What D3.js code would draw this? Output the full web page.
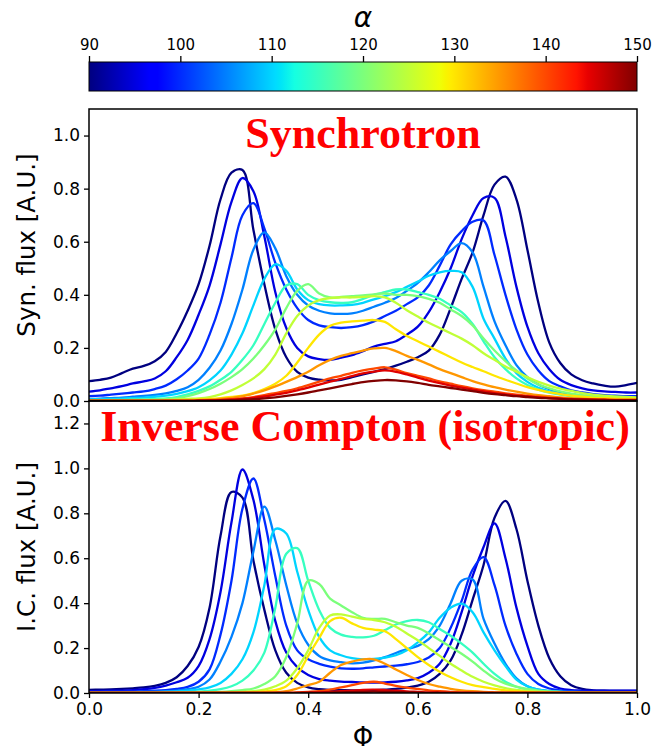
<!DOCTYPE html>
<html>
<head>
<meta charset="utf-8">
<script src="https://cdn.jsdelivr.net/npm/d3@7/dist/d3.min.js"></script>
<style>
  body { margin: 0; background: #fff; }
  svg { display: block; }
  .sans { font-family: "DejaVu Sans", sans-serif; }
  .ptitle { font-family: "Liberation Serif", "Times New Roman", serif; font-weight: bold; fill: #ff0000; }
</style>
</head>
<body>
<svg id="chart" width="656" height="751"></svg>
<script>
// Rotational phase grid shared by every light curve
const phi = [0.00,0.02,0.04,0.06,0.08,0.10,0.12,0.14,0.16,0.18,
             0.20,0.22,0.24,0.26,0.28,0.30,0.32,0.34,0.36,0.38,
             0.40,0.42,0.44,0.46,0.48,0.50,0.52,0.54,0.56,0.58,
             0.60,0.62,0.64,0.66,0.68,0.70,0.72,0.74,0.76,0.78,
             0.80,0.82,0.84,0.86,0.88,0.90,0.92,0.94,0.96,0.98,1.00];

// Inclination angles (degrees), one curve each
const alphas = [90, 95, 100, 105, 110, 115, 120, 125, 130, 135, 140, 145, 150];

// Synchrotron light curves [A.U.]
const syn090 = [.075,.080,.088,.105,.122,.132,.150,.185,.255,.34, .44,.585,.76,.86,.87,.645,.44,.27,.165,.11, .088,.08,.078,.08,.09,.10,.11,.12,.133,.148, .165,.19,.25,.35,.46,.56,.70,.815,.845,.76, .57,.37,.22,.143,.10,.078,.066,.058,.054,.06,.068];
const syn095 = [.035,.040,.048,.056,.066,.074,.085,.112,.165,.23, .325,.435,.59,.75,.84,.79,.62,.41,.275,.20, .168,.158,.155,.163,.173,.188,.205,.215,.225,.25, .28,.335,.41,.50,.61,.70,.765,.765,.62,.43, .28,.18,.12,.08,.06,.048,.04,.036,.034,.032,.032];
const syn100 = [.018,.02,.024,.028,.032,.036,.045,.058,.082,.115, .16,.25,.37,.54,.70,.745,.65,.52,.42,.35, .305,.285,.278,.275,.278,.286,.30,.32,.34,.365, .39,.435,.51,.59,.64,.675,.68,.55,.40,.27, .175,.115,.075,.055,.04,.032,.026,.022,.02,.018,.018];
const syn105 = [.008,.009,.011,.013,.016,.019,.023,.029,.038,.052, .08,.125,.19,.29,.42,.57,.635,.575,.47,.40, .36,.34,.33,.328,.33,.34,.355,.37,.388,.415, .445,.485,.53,.565,.595,.56,.43,.30,.21,.135, .09,.062,.045,.032,.024,.019,.016,.014,.013,.012,.012];
const syn110 = [.006,.007,.008,.009,.011,.013,.016,.02,.027,.037, .052,.078,.115,.175,.255,.36,.46,.515,.49,.42, .38,.365,.36,.36,.362,.37,.383,.395,.41,.43, .45,.472,.485,.49,.485,.43,.31,.235,.16,.105, .072,.05,.036,.027,.02,.016,.013,.011,.01,.009,.009];
const syn115 = [.003,.003,.004,.004,.005,.006,.008,.01,.015,.025, .038,.055,.08,.11,.155,.21,.29,.37,.435,.44, .40,.38,.372,.37,.372,.385,.40,.41,.42,.42, .41,.40,.385,.36,.335,.29,.225,.165,.12,.085, .06,.043,.032,.024,.018,.014,.012,.01,.009,.008,.008];
const syn120 = [.002,.002,.003,.003,.004,.004,.005,.007,.01,.018, .03,.045,.065,.09,.12,.16,.21,.27,.35,.415, .44,.405,.39,.392,.395,.398,.402,.405,.40,.40, .395,.385,.37,.345,.32,.285,.235,.19,.15,.115, .085,.062,.048,.036,.028,.022,.018,.015,.013,.012,.011];
const syn125 = [.001,.001,.002,.002,.002,.003,.003,.004,.006,.008, .01,.015,.025,.04,.06,.085,.12,.175,.255,.32, .36,.38,.388,.39,.39,.392,.395,.39,.37,.342, .318,.295,.275,.255,.235,.21,.18,.155,.13,.11, .09,.072,.058,.047,.038,.03,.024,.02,.017,.015,.014];
const syn130 = [0,0,0,0,0,.001,.001,.002,.003,.004, .006,.008,.011,.015,.02,.03,.045,.065,.095,.145, .20,.25,.283,.295,.30,.303,.305,.298,.27,.245, .225,.205,.185,.165,.145,.128,.112,.095,.08,.066, .052,.042,.033,.026,.02,.016,.013,.011,.009,.008,.008];
const syn135 = [0,0,0,0,0,0,0,.001,.001,.002, .003,.005,.008,.012,.018,.028,.04,.055,.072,.09, .11,.135,.155,.17,.18,.19,.198,.20,.188,.17, .155,.138,.12,.105,.09,.075,.063,.052,.043,.035, .028,.022,.018,.014,.011,.009,.007,.006,.005,.005,.005];
const syn140 = [0,0,0,0,0,0,0,0,0,0, .001,.002,.004,.007,.01,.015,.022,.03,.038,.048, .06,.073,.085,.095,.106,.115,.122,.127,.118,.105, .095,.085,.074,.065,.056,.048,.041,.035,.029,.024, .02,.016,.013,.01,.008,.007,.006,.005,.004,.004,.004];
const syn145 = [0,0,0,0,0,0,0,0,0,0, .001,.002,.003,.005,.008,.012,.017,.024,.031,.04, .05,.062,.073,.083,.094,.104,.111,.115,.11,.10, .088,.077,.067,.058,.05,.043,.036,.03,.025,.02, .017,.014,.011,.009,.007,.006,.005,.004,.003,.003,.003];
const syn150 = [0,0,0,0,0,0,0,0,0,0, .001,.001,.002,.003,.005,.007,.01,.014,.019,.025, .032,.04,.048,.056,.064,.071,.076,.079,.078,.074, .068,.061,.055,.049,.043,.037,.031,.026,.022,.018, .015,.012,.01,.008,.006,.005,.004,.004,.003,.003,.003];

// Inverse Compton (isotropic) light curves [A.U.]
const ic090 = [.014,.015,.016,.018,.021,.025,.032,.045,.07,.12, .205,.38,.70,.895,.87,.59,.37,.19,.09,.045, .025,.017,.014,.013,.012,.012,.013,.015,.018,.024, .033,.05,.085,.145,.26,.415,.57,.78,.855,.73, .50,.30,.155,.075,.035,.018,.012,.01,.009,.009,.009];
const ic095 = [.008,.009,.01,.011,.013,.017,.023,.033,.048,.068, .12,.24,.45,.76,.995,.86,.57,.32,.18,.115, .08,.062,.055,.051,.049,.047,.046,.047,.05,.056, .066,.09,.13,.22,.36,.52,.65,.755,.60,.38, .21,.085,.04,.02,.013,.011,.01,.01,.01,.01,.01];
const ic100 = [.005,.005,.006,.006,.007,.008,.01,.013,.018,.027, .05,.105,.26,.50,.82,.955,.77,.52,.30,.19, .15,.13,.117,.11,.108,.11,.114,.118,.122,.128, .138,.158,.20,.29,.41,.55,.605,.48,.30,.175, .085,.04,.02,.012,.008,.006,.005,.005,.005,.005,.005];
const ic105 = [.003,.003,.003,.004,.004,.005,.006,.008,.011,.017, .028,.06,.14,.25,.40,.63,.83,.68,.48,.31, .215,.165,.145,.137,.132,.135,.145,.16,.178,.195, .21,.24,.30,.40,.50,.505,.33,.22,.13,.065, .03,.015,.009,.006,.005,.004,.004,.004,.004,.004,.004];
const ic110 = [.002,.002,.002,.002,.003,.003,.004,.005,.007,.011, .016,.025,.045,.085,.15,.27,.48,.73,.71,.54, .37,.25,.19,.168,.155,.15,.152,.158,.168,.19, .225,.27,.335,.38,.398,.36,.27,.19,.12,.06, .03,.015,.008,.005,.004,.003,.003,.003,.003,.003,.003];
const ic115 = [.001,.001,.001,.001,.001,.002,.002,.003,.003,.004, .006,.01,.017,.03,.055,.10,.18,.38,.62,.645, .50,.37,.29,.26,.25,.248,.255,.28,.305,.32, .325,.315,.285,.255,.22,.18,.13,.085,.05,.028, .015,.008,.005,.003,.002,.002,.002,.002,.002,.002,.002];
const ic120 = [0,0,0,0,0,.001,.001,.001,.002,.002, .003,.004,.005,.008,.013,.02,.04,.075,.16,.31, .50,.485,.42,.39,.36,.335,.33,.33,.315,.30, .29,.265,.235,.205,.175,.14,.10,.065,.042,.028, .018,.011,.007,.005,.003,.002,.002,.002,.002,.002,.002];
const ic125 = [0,0,0,0,0,0,0,0,.001,.001, .002,.002,.003,.004,.005,.008,.015,.03,.055,.11, .19,.29,.345,.35,.34,.33,.325,.315,.295,.265, .235,.20,.165,.13,.10,.072,.05,.034,.022,.014, .009,.006,.004,.003,.002,.001,.001,.001,.001,.001,.001];
const ic130 = [0,0,0,0,0,0,0,0,0,0, 0,.001,.001,.001,.002,.003,.007,.013,.03,.08, .165,.245,.32,.335,.31,.29,.282,.275,.24,.20, .16,.125,.095,.07,.05,.035,.026,.018,.012,.008, .005,.003,.002,.001,.001,0,0,0,0,0,0];
const ic135 = [0,0,0,0,0,0,0,0,0,0, 0,0,0,0,0,0,0,.003,.008,.02, .035,.05,.09,.125,.14,.15,.15,.13,.105,.08, .058,.04,.028,.018,.012,.008,.005,.003,.002,.001, .001,0,0,0,0,0,0,0,0,0,0];
const ic140 = [0,0,0,0,0,0,0,0,0,0, 0,0,0,0,0,0,0,0,0,.003, .005,.008,.015,.025,.035,.045,.05,.042,.032,.024, .018,.012,.008,.005,.003,.002,.001,.001,0,0, 0,0,0,0,0,0,0,0,0,0,0];
const ic145 = [0,0,0,0,0,0,0,0,0,0, 0,0,0,0,0,0,0,0,0,0, .002,.003,.005,.008,.011,.014,.015,.013,.01,.007, .005,.003,.002,.001,0,0,0,0,0,0, 0,0,0,0,0,0,0,0,0,0,0];
const ic150 = [0,0,0,0,0,0,0,0,0,0, 0,0,0,0,0,0,0,0,0,0, .001,.001,.002,.003,.004,.005,.006,.005,.004,.003, .002,.001,.001,0,0,0,0,0,0,0, 0,0,0,0,0,0,0,0,0,0,0];

const synSeries = [syn090, syn095, syn100, syn105, syn110, syn115, syn120, syn125, syn130, syn135, syn140, syn145, syn150];
const icSeries  = [ic090, ic095, ic100, ic105, ic110, ic115, ic120, ic125, ic130, ic135, ic140, ic145, ic150];

// Tick values
const cbarTicks = [90, 100, 110, 120, 130, 140, 150];
const synTicks  = [0.0, 0.2, 0.4, 0.6, 0.8, 1.0];
const icTicks   = [0.0, 0.2, 0.4, 0.6, 0.8, 1.0, 1.2];
const phiTicks  = [0.0, 0.2, 0.4, 0.6, 0.8, 1.0];

// ---- layout ----
const L = 89, R = 637;
const cbTop = 62, cbBot = 91;
const p1Top = 109, p1Bot = 401, p2Top = 401, p2Bot = 693;

const svg = d3.select("#chart");

// jet colormap, piecewise linear per channel
const jetR = d3.scaleLinear().domain([0, 0.35, 0.66, 0.89, 1]).range([0, 0, 1, 1, 0.5]).clamp(true);
const jetG = d3.scaleLinear().domain([0, 0.125, 0.375, 0.64, 0.91, 1]).range([0, 0, 1, 1, 0, 0]).clamp(true);
const jetB = d3.scaleLinear().domain([0, 0.11, 0.34, 0.65, 1]).range([0.5, 1, 1, 0, 0]).clamp(true);
const jet = t => d3.rgb(255 * jetR(t), 255 * jetG(t), 255 * jetB(t)).formatHex();
const aNorm = d3.scaleLinear().domain([90, 150]).range([0, 1]);

const x = d3.scaleLinear().domain([0, 1]).range([L, R]);
const ySyn = d3.scaleLinear().domain([0, 1.1]).range([p1Bot, p1Top]);
const yIC = d3.scaleLinear().domain([0, 1.3]).range([p2Bot, p2Top]);
const xCb = d3.scaleLinear().domain([90, 150]).range([L, R]);

// ---- colorbar ----
const defs = svg.append("defs");
const grad = defs.append("linearGradient").attr("id", "jetGrad")
  .attr("x1", "0%").attr("x2", "100%").attr("y1", "0%").attr("y2", "0%");
[0, 0.11, 0.125, 0.34, 0.35, 0.375, 0.64, 0.65, 0.66, 0.89, 0.91, 1].forEach(t => {
  grad.append("stop").attr("offset", (t * 100) + "%").attr("stop-color", jet(t));
});
svg.append("rect").attr("x", L).attr("y", cbTop).attr("width", R - L).attr("height", cbBot - cbTop)
  .attr("fill", "url(#jetGrad)").attr("stroke", "#000").attr("stroke-width", 1);

const cbAxis = svg.append("g").attr("transform", `translate(0,${cbTop})`)
  .call(d3.axisTop(xCb).tickValues(cbarTicks).tickSize(6).tickPadding(6).tickFormat(d3.format("d")));
cbAxis.select(".domain").remove();
cbAxis.selectAll("line").attr("stroke", "#000").attr("stroke-width", 1.3);
cbAxis.selectAll("text").attr("class", "sans").attr("font-size", 15).attr("fill", "#000");

svg.append("text").attr("class", "sans").attr("x", (L + R) / 2).attr("y", 27).attr("text-anchor", "middle")
  .attr("font-size", 28).attr("font-style", "italic").text("α");

// ---- panels ----
function panel(top, bot, yScale, series, ticks, id) {
  defs.append("clipPath").attr("id", id).append("rect")
    .attr("x", L).attr("y", top).attr("width", R - L).attr("height", bot - top);

  const line = d3.line()
    .x((d, i) => x(phi[i]))
    .y(d => yScale(d))
    .curve(d3.curveCatmullRom.alpha(0.5));

  const g = svg.append("g").attr("clip-path", `url(#${id})`);
  series.forEach((vals, k) => {
    g.append("path").datum(vals)
      .attr("d", line)
      .attr("fill", "none")
      .attr("stroke", jet(aNorm(alphas[k])))
      .attr("stroke-width", 2.3)
      .attr("stroke-linejoin", "round")
      .attr("stroke-linecap", "round");
  });

  const ax = svg.append("g").attr("transform", `translate(${L},0)`)
    .call(d3.axisLeft(yScale).tickValues(ticks).tickSize(5).tickPadding(4).tickFormat(d3.format(".1f")));
  ax.select(".domain").remove();
  ax.selectAll("line").attr("stroke", "#000").attr("stroke-width", 1.3);
  ax.selectAll("text").attr("class", "sans").attr("font-size", 17).attr("fill", "#000");

  svg.append("rect").attr("x", L).attr("y", top).attr("width", R - L).attr("height", bot - top)
    .attr("fill", "none").attr("stroke", "#000").attr("stroke-width", 1.5);
}

panel(p1Top, p1Bot, ySyn, synSeries, synTicks, "clipSyn");
panel(p2Top, p2Bot, yIC, icSeries, icTicks, "clipIC");

// x axis at the bottom of the lower panel
const xa = svg.append("g").attr("transform", `translate(0,${p2Bot})`)
  .call(d3.axisBottom(x).tickValues(phiTicks).tickSize(5).tickPadding(5).tickFormat(d3.format(".1f")));
xa.select(".domain").remove();
xa.selectAll("line").attr("stroke", "#000").attr("stroke-width", 1.3);
xa.selectAll("text").attr("class", "sans").attr("font-size", 17).attr("fill", "#000");

// axis titles
svg.append("text").attr("class", "sans").attr("transform", "translate(35,245) rotate(-90)")
  .attr("text-anchor", "middle").attr("font-size", 24.5).text("Syn. flux [A.U.]");
svg.append("text").attr("class", "sans").attr("transform", "translate(35,547) rotate(-90)")
  .attr("text-anchor", "middle").attr("font-size", 24.5).text("I.C. flux [A.U.]");
svg.append("text").attr("class", "sans").attr("x", (L + R) / 2).attr("y", 746).attr("text-anchor", "middle")
  .attr("font-size", 26).text("Φ");

// panel titles
svg.append("text").attr("class", "ptitle").attr("x", 363).attr("y", 148).attr("text-anchor", "middle")
  .attr("font-size", 44).text("Synchrotron");
svg.append("text").attr("class", "ptitle").attr("x", 365).attr("y", 441).attr("text-anchor", "middle")
  .attr("font-size", 44).text("Inverse Compton (isotropic)");
</script>
</body>
</html>
